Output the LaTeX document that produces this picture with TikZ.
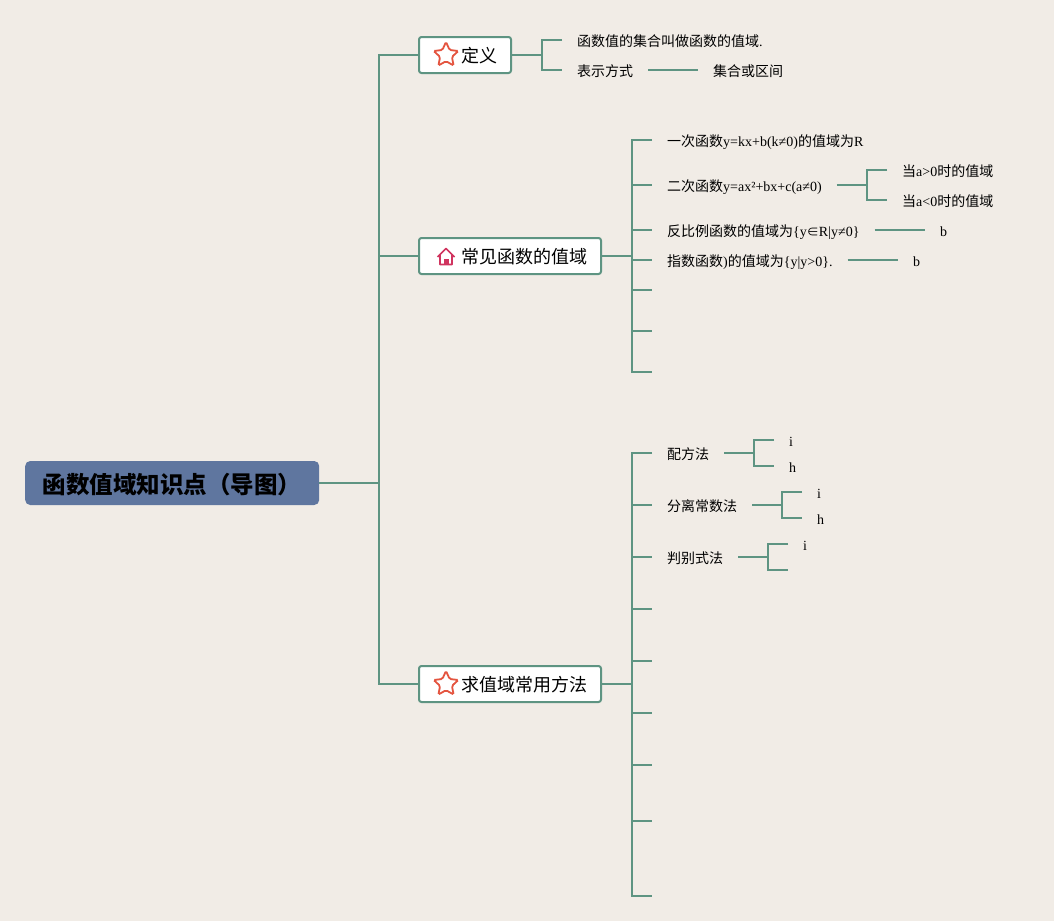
\documentclass[tikz,border=0pt]{standalone}
\usepackage{fontspec}
\setmainfont{Liberation Serif}
\newfontfamily\cjk{Noto Sans CJK SC}
\usetikzlibrary{shapes.geometric}
\definecolor{paper}{HTML}{F1ECE6}
\definecolor{twig}{HTML}{5E9482}
\definecolor{rootblue}{HTML}{5F769F}
\definecolor{starred}{HTML}{E4543F}
\definecolor{housered}{HTML}{D0345F}
\tikzset{
  branch/.style={draw=twig,line width=2pt},
  root/.style={fill=rootblue,rounded corners=5pt,minimum width=294pt,minimum height=44pt,inner xsep=15pt,inner ysep=0pt,text height=20pt,text depth=0pt,font=\fontsize{23.5}{26}\selectfont\cjk\bfseries,anchor=west},
  topic/.style={draw=twig,line width=2pt,fill=white,rounded corners=2.5pt,minimum height=36pt,inner xsep=14pt,inner ysep=0pt,text height=14pt,text depth=0pt,font=\fontsize{18}{20}\selectfont\cjk,anchor=west},
  leaf/.style={inner xsep=15pt,inner ysep=0pt,text height=12pt,text depth=0pt,font=\fontsize{14}{16}\selectfont,anchor=west},
  staricon/.style={star,star points=5,star point ratio=2.1,draw=starred,line width=1.8pt,rounded corners=1.5pt,minimum size=26pt,inner sep=0pt},
}
\begin{document}
\begin{tikzpicture}[x=1pt,y=-1pt]
\fill[paper] (0,0) rectangle (1054,921);
\useasboundingbox (0,0) rectangle (1054,921);
% main nodes
\node[root] (root) at (25,483) {函数值域知识点（导图）\hspace{5.5pt}};
\node[topic] (def) at (418,55) {\hspace{28pt}定义};
\node[topic] (common) at (418,256) {\hspace{28pt}常见函数的值域};
\node[topic] (method) at (418,684) {\hspace{28pt}求值域常用方法};
\node[staricon] (star1) at (446,55) {};
\node[staricon] (star2) at (446,684) {};
\draw[housered,line width=1.7pt,line join=round] (437.5,257) -- (446,248.5) -- (454.5,257) (440,255) -- (440,264.5) -- (452,264.5) -- (452,255);
\fill[housered] (443.5,264.5) rectangle (448.5,258.5);
% trunk
\coordinate (trunk) at (379,483);
\draw[branch] (root.east) -- (trunk);
\draw[branch] (def.west) -| (trunk) |- (method.west);
\draw[branch] (trunk) |- (common.west);
% definition
\node[leaf] (d1) at (562,40) {{\cjk 函数值的集合叫做函数的值域}.};
\node[leaf] (d2) at (562,70) {{\cjk 表示方式}};
\node[leaf] (d3) at (698,70) {{\cjk 集合或区间}};
\coordinate (dfork) at (542,55);
\draw[branch] (def.east) -- (dfork);
\draw[branch] (d1.west) -| (dfork) |- (d2.west);
\draw[branch] (d2.east) -- (d3.west);
% common functions
\coordinate (cfork) at (632,256);
\draw[branch] (common.east) -- (cfork);
\node[leaf] (c1) at (652,140) {{\cjk 一次函数}y=kx+b(k≠0){\cjk 的值域为}R};
\node[leaf] (c2) at (652,185) {{\cjk 二次函数}y=ax²+bx+c(a≠0)};
\node[leaf] (c3) at (652,230) {{\cjk 反比例函数的值域为}\{y{\fontsize{12}{14}\selectfont\cjk ∈}R|y≠0\}};
\node[leaf] (c4) at (652,260) {{\cjk 指数函数}){\cjk 的值域为}\{y|y>0\}.};
\foreach \n/\y in {c5/290,c6/331,c7/372}
  \coordinate (\n) at (652,\y);
\draw[branch] (c1.west) -| (cfork) |- (c7);
\foreach \n in {c2,c3,c4}
  \draw[branch] (cfork |- \n.west) -- (\n.west);
\foreach \n in {c5,c6}
  \draw[branch] (cfork |- \n) -- (\n);
\node[leaf] (c2a) at (887,170) {{\cjk 当}a>0{\cjk 时的值域}};
\node[leaf] (c2b) at (887,200) {{\cjk 当}a<0{\cjk 时的值域}};
\coordinate (c2fork) at (867,185);
\draw[branch] (c2.east) -- (c2fork);
\draw[branch] (c2a.west) -| (c2fork) |- (c2b.west);
\node[leaf] (c3a) at (925,230) {b};
\node[leaf] (c4a) at (898,260) {b};
\draw[branch] (c3.east) -- (c3a.west);
\draw[branch] (c4.east) -- (c4a.west);
% methods
\coordinate (mfork) at (632,684);
\draw[branch] (method.east) -- (mfork);
\node[leaf] (m1) at (652,453) {{\cjk 配方法}};
\node[leaf] (m2) at (652,505) {{\cjk 分离常数法}};
\node[leaf] (m3) at (652,557) {{\cjk 判别式法}};
\foreach \n/\y in {m4/609,m5/661,m6/713,m7/765,m8/821,m9/896}
  \coordinate (\n) at (652,\y);
\draw[branch] (m1.west) -| (mfork) |- (m9);
\foreach \n in {m2,m3}
  \draw[branch] (mfork |- \n.west) -- (\n.west);
\foreach \n in {m4,m5,m6,m7,m8}
  \draw[branch] (mfork |- \n) -- (\n);
\node[leaf] (m1a) at (774,440) {i};
\node[leaf] (m1b) at (774,466) {h};
\node[leaf] (m2a) at (802,492) {i};
\node[leaf] (m2b) at (802,518) {h};
\node[leaf] (m3a) at (788,544) {i};
\coordinate (m3b) at (788,570);
\coordinate (m1fork) at (754,453);
\coordinate (m2fork) at (782,505);
\coordinate (m3fork) at (768,557);
\draw[branch] (m1.east) -- (m1fork);
\draw[branch] (m1a.west) -| (m1fork) |- (m1b.west);
\draw[branch] (m2.east) -- (m2fork);
\draw[branch] (m2a.west) -| (m2fork) |- (m2b.west);
\draw[branch] (m3.east) -- (m3fork);
\draw[branch] (m3a.west) -| (m3fork) |- (m3b);
\end{tikzpicture}
\end{document}
